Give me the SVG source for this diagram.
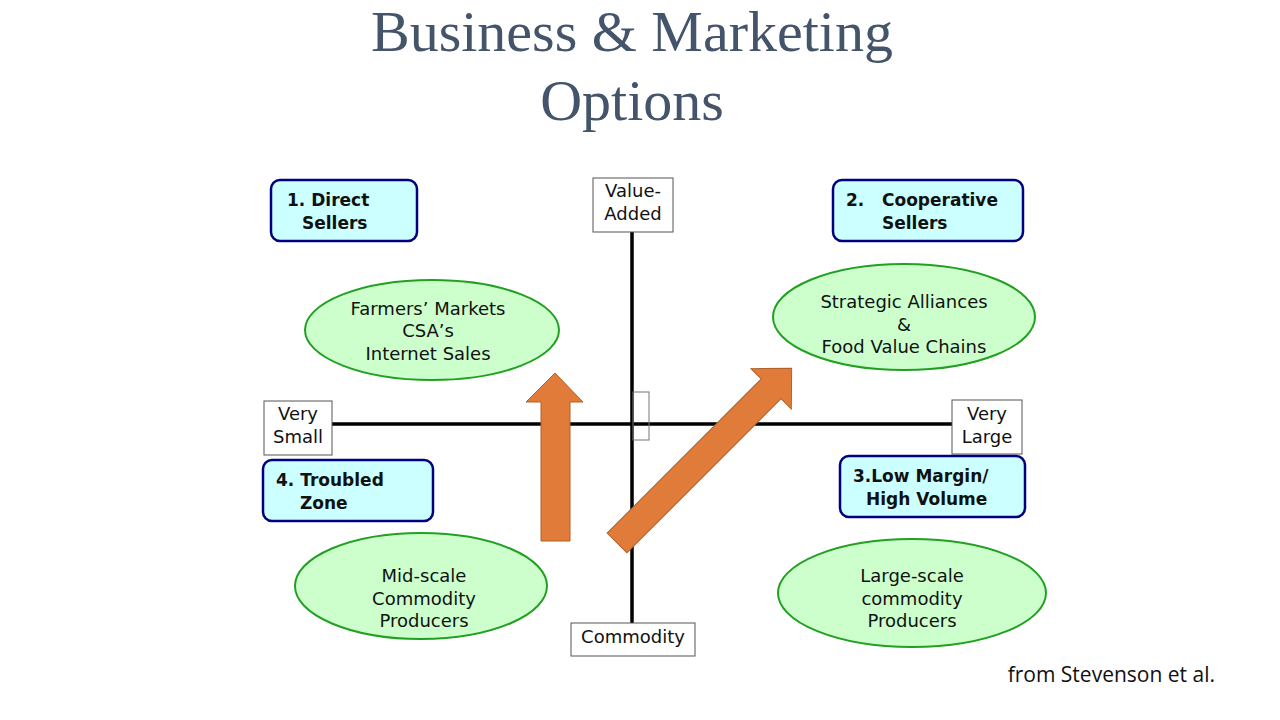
<svg xmlns="http://www.w3.org/2000/svg" width="1280" height="720" viewBox="0 0 1280 720">
<style>
.title{font-family:"Liberation Serif",serif;font-size:58px;fill:#44546A;text-anchor:middle}
.q rect{fill:#ccffff;stroke:#000080;stroke-width:2.5}
.q text{font-family:"DejaVu Sans",Verdana,sans-serif;font-size:17px;font-weight:bold;fill:#111}
.e ellipse{fill:#ccffcc;stroke:#22a022;stroke-width:2}
.e text,.ax text{font-family:"DejaVu Sans",Verdana,sans-serif;font-size:18px;fill:#111;text-anchor:middle}
.ax rect{fill:#fff;stroke:#555;stroke-width:1}
.arr{fill:#E07B39;stroke:#b0622a;stroke-width:1}
</style>
<rect width="1280" height="720" fill="#fff"/>
<text class="title" x="632" y="51">Business &amp; Marketing</text>
<text class="title" x="632" y="120">Options</text>

<g id="connectors">
<line x1="632" y1="232" x2="632" y2="623" stroke="#000" stroke-width="3.5"/>
<line x1="332" y1="424" x2="952" y2="424" stroke="#000" stroke-width="3.5"/>
<rect x="633" y="392" width="16" height="48" fill="none" stroke="#777" stroke-width="1"/>
<polygon class="arr" points="541,541 541,402 526,402 555,373 583,402 570,402 570,541"/>
<polygon class="arr" transform="translate(617,543) rotate(-45)" points="0,-14 218,-14 218,-28.5 247,0 218,28.5 218,14 0,14"/>
</g>

<g id="value-added" class="ax"><rect x="593" y="178" width="80" height="54"/><text x="633" y="197">Value-</text><text x="633" y="220">Added</text></g>
<g id="commodity" class="ax"><rect x="571" y="623" width="124" height="33"/><text x="633" y="643">Commodity</text></g>
<g id="very-small" class="ax"><rect x="264" y="401" width="68" height="54"/><text x="298" y="420">Very</text><text x="298" y="443">Small</text></g>
<g id="very-large" class="ax"><rect x="952" y="400" width="70" height="54"/><text x="987" y="420">Very</text><text x="987" y="443">Large</text></g>

<g id="direct-sellers" class="q"><rect x="271" y="180" width="146" height="61" rx="9"/><text x="287" y="206">1. Direct</text><text x="302" y="229">Sellers</text></g>
<g id="cooperative-sellers" class="q"><rect x="833" y="180" width="190" height="61" rx="9"/><text x="846" y="206">2.</text><text x="882" y="206">Cooperative</text><text x="882" y="229">Sellers</text></g>
<g id="troubled-zone" class="q"><rect x="263" y="460" width="170" height="61" rx="9"/><text x="276" y="486">4. Troubled</text><text x="300" y="509">Zone</text></g>
<g id="low-margin" class="q"><rect x="840" y="456" width="185" height="61" rx="9"/><text x="853" y="482">3.Low Margin/</text><text x="866" y="505">High Volume</text></g>

<g id="farmers" class="e"><ellipse cx="432" cy="330" rx="127" ry="50"/><text x="428" y="315">Farmers’ Markets</text><text x="428" y="337">CSA’s</text><text x="428" y="360">Internet Sales</text></g>
<g id="strategic" class="e"><ellipse cx="904" cy="317" rx="131" ry="53"/><text x="904" y="308">Strategic Alliances</text><text x="904" y="331">&amp;</text><text x="904" y="353">Food Value Chains</text></g>
<g id="mid-scale" class="e"><ellipse cx="421" cy="586" rx="126" ry="53"/><text x="424" y="582">Mid-scale</text><text x="424" y="605">Commodity</text><text x="424" y="627">Producers</text></g>
<g id="large-scale" class="e"><ellipse cx="912" cy="593" rx="134" ry="54"/><text x="912" y="582">Large-scale</text><text x="912" y="605">commodity</text><text x="912" y="627">Producers</text></g>

<text x="1215" y="682" font-family="'Open Sans','Liberation Sans',sans-serif" font-size="21" fill="#111" text-anchor="end">from Stevenson et al.</text>
</svg>
